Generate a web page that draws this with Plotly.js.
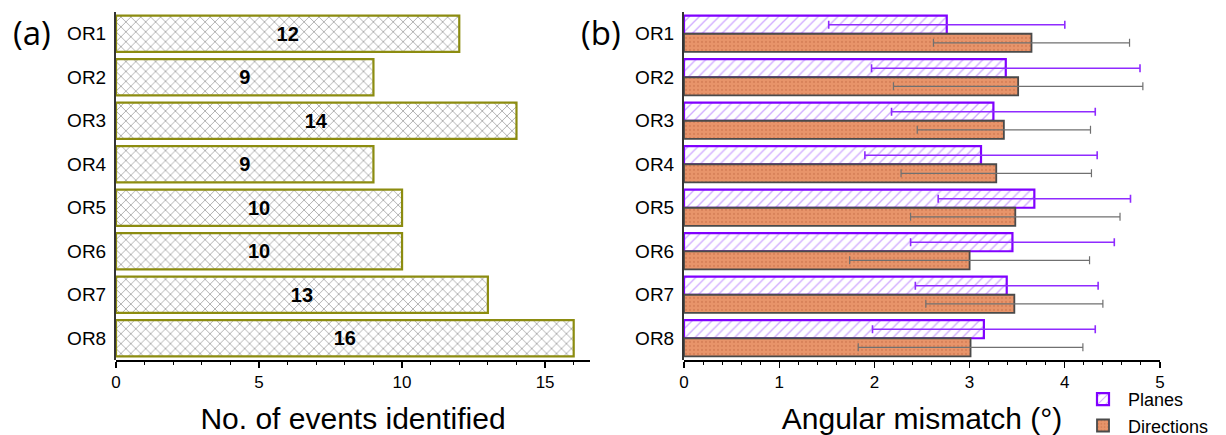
<!DOCTYPE html>
<html>
<head>
<meta charset="utf-8">
<script src="https://cdn.plot.ly/plotly-3.0.1.min.js"></script>
<style>html,body{margin:0;padding:0;background:#fff;}#chart{width:1226px;height:435px;}</style>
</head>
<body>
<div id="chart"></div>
<script>
// ---- data ----
const categories = ["OR1","OR2","OR3","OR4","OR5","OR6","OR7","OR8"];
const eventCounts = [12, 9, 14, 9, 10, 10, 13, 16];
const planesMean = [2.76, 3.38, 3.25, 3.12, 3.68, 3.45, 3.39, 3.15];
const planesErr  = [1.24, 1.41, 1.07, 1.22, 1.01, 1.07, 0.96, 1.17];
const dirMean    = [3.65, 3.51, 3.36, 3.28, 3.48, 3.00, 3.47, 3.01];
const dirErr     = [1.03, 1.31, 0.91, 1.00, 1.10, 1.26, 0.93, 1.18];
const seriesNames = ["Planes", "Directions"];
const panelLabels = ["(a)", "(b)"];
const axisTitles = ["No. of events identified", "Angular mismatch (°)"];

const W = 1226;
const FAM = "Liberation Sans, Arial, sans-serif";
const tickFont = {family: FAM, size: 17, color: "#000"};

const traces = [
  {
    type: "bar", orientation: "h", x: eventCounts, y: categories,
    xaxis: "x", yaxis: "y", showlegend: false,
    marker: {color: "#ffffff", line: {color: "#8c8c10", width: 2.2},
      pattern: {shape: "x", fgcolor: "#444444", bgcolor: "#ffffff", size: 7, solidity: 0.22, fillmode: "overlay"}},
    text: eventCounts.map(String), texttemplate: "<b>%{x}</b>",
    textposition: "inside", insidetextanchor: "middle", textangle: 0,
    textfont: {family: FAM, size: 20, color: "#000"},
    hoverinfo: "skip"
  },
  {
    type: "bar", orientation: "h", name: seriesNames[0], x: planesMean, y: categories,
    xaxis: "x2", yaxis: "y2",
    marker: {color: "#ffffff", line: {color: "#8000ff", width: 2.2},
      pattern: {shape: "/", fgcolor: "#a45cff", bgcolor: "#ffffff", size: 7, solidity: 0.2, fillmode: "overlay"}},
    error_x: {type: "data", array: planesErr, visible: true, color: "#8f2bff", thickness: 1.6, width: 4}
  },
  {
    type: "bar", orientation: "h", name: seriesNames[1], x: dirMean, y: categories,
    xaxis: "x2", yaxis: "y2",
    marker: {color: "#e8946a", line: {color: "#4a4a4a", width: 1.8},
      pattern: {shape: ".", fgcolor: "#c8704a", bgcolor: "#e8946a", size: 4, solidity: 0.25, fillmode: "overlay"}},
    error_x: {type: "data", array: dirErr, visible: true, color: "#707070", thickness: 1.2, width: 4}
  }
];

const xCommon = {
  showline: true, linecolor: "#000", linewidth: 1.5, ticks: "outside", ticklen: 6, tickwidth: 1.3,
  tickcolor: "#000", showgrid: false, zeroline: false, tickfont: tickFont, anchor: "free"
};
const yCommon = {
  showline: true, linecolor: "#333", linewidth: 2, ticks: "", showgrid: false, zeroline: false,
  autorange: "reversed", tickfont: {family: FAM, size: 19, color: "#000"},
  ticklabelstandoff: 4
};

const layout = {
  width: W, height: 435,
  font: {family: FAM},
  margin: {l: 0, r: 0, t: 12, b: 75, autoexpand: false},
  paper_bgcolor: "#fff", plot_bgcolor: "rgba(0,0,0,0)",
  barmode: "group", bargap: 0.17, bargroupgap: 0,
  xaxis: Object.assign({}, xCommon, {
    domain: [116 / W, 590 / W], range: [0, 16.57], dtick: 5, position: 0,
    minor: {dtick: 1, ticks: "outside", ticklen: 3.5, tickcolor: "#000", tickwidth: 1},
    title: {text: axisTitles[0], font: {family: FAM, size: 30, color: "#000"}, standoff: 20}
  }),
  yaxis: Object.assign({}, yCommon, {anchor: "x"}),
  xaxis2: Object.assign({}, xCommon, {
    domain: [684 / W, 1160 / W], range: [0, 5], dtick: 1, position: 0,
    minor: {dtick: 0.2, ticks: "outside", ticklen: 3.5, tickcolor: "#000", tickwidth: 1},
    title: {text: axisTitles[1], font: {family: FAM, size: 30, color: "#000"}, standoff: 20}
  }),
  yaxis2: Object.assign({}, yCommon, {anchor: "x2"}),
  showlegend: true,
  legend: {x: 1078 / W, xanchor: "left", y: -0.06, yanchor: "top", orientation: "v",
    font: {family: FAM, size: 18, color: "#000"},
    bgcolor: "rgba(0,0,0,0)", tracegroupgap: 0, itemwidth: 40, traceorder: "normal"},
  annotations: [
    {text: panelLabels[0], xref: "paper", yref: "paper", x: 32 / W, y: 1 - (33 - 12) / 348,
     xanchor: "center", yanchor: "middle", showarrow: false,
     font: {family: "Open Sans, sans-serif", size: 33, color: "#000"}},
    {text: panelLabels[1], xref: "paper", yref: "paper", x: 601 / W, y: 1 - (33 - 12) / 348,
     xanchor: "center", yanchor: "middle", showarrow: false,
     font: {family: "Open Sans, sans-serif", size: 33, color: "#000"}}
  ]
};

Plotly.newPlot("chart", traces, layout, {staticPlot: true, displayModeBar: false});
</script>
</body>
</html>
